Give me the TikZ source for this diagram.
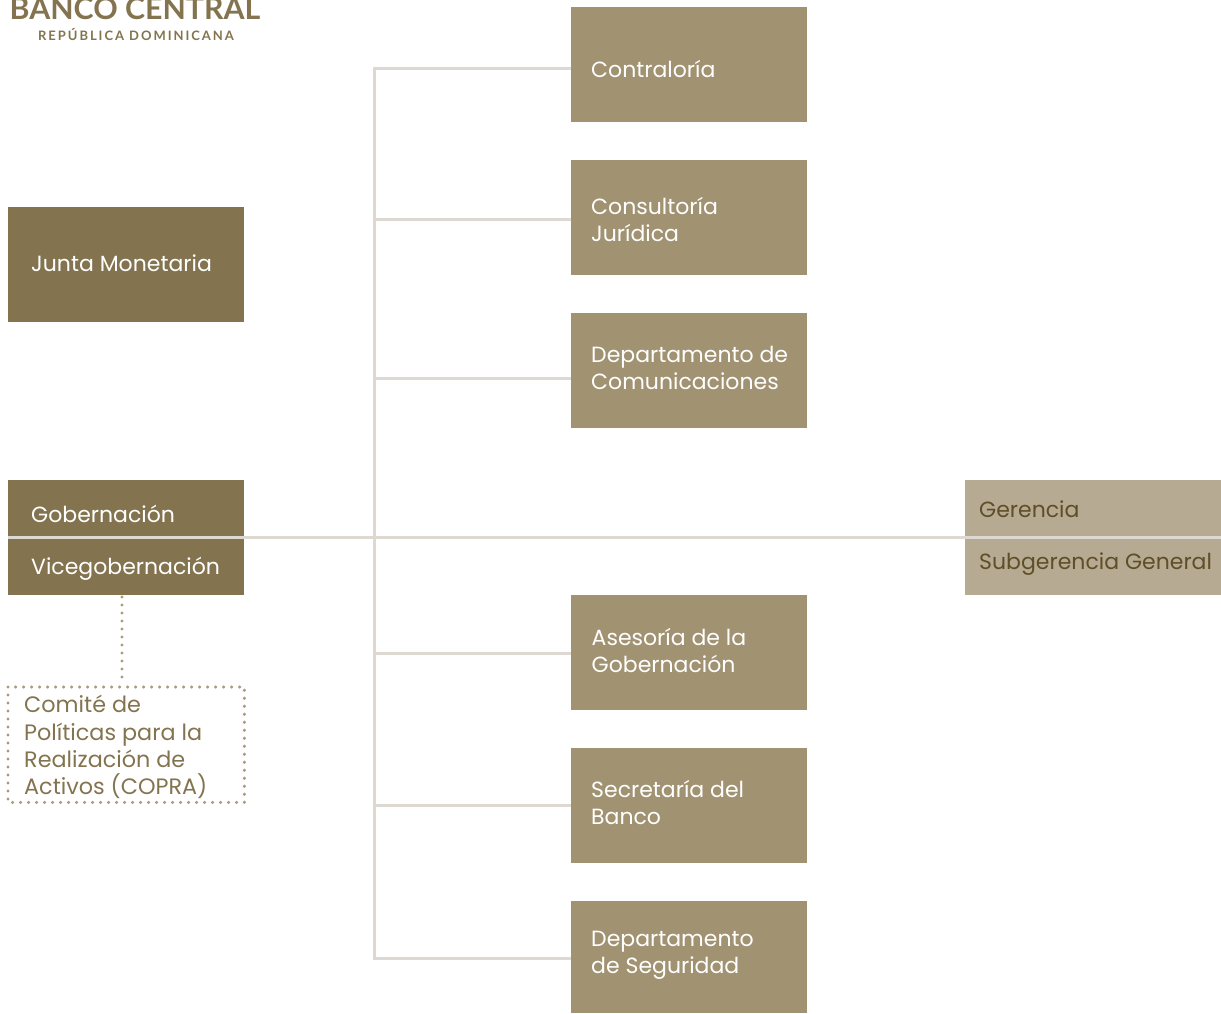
\documentclass[tikz,border=0pt]{standalone}
\usepackage{fontspec}
\setmainfont{Poppins}
\newfontfamily\logofont{Lato}
\definecolor{dark}{HTML}{83744F}
\definecolor{mid}{HTML}{A19272}
\definecolor{light}{HTML}{B6AA92}
\definecolor{ink}{HTML}{5F4F28}
\definecolor{rule}{HTML}{DDD8D2}
\definecolor{dots}{HTML}{A89B80}
\tikzset{
  x=1pt,y=-1pt,
  boxbase/.style={anchor=north west,inner sep=0pt,draw=none},
  boxdark/.style={boxbase,fill=dark,minimum width=236pt},
  boxmid/.style={boxbase,fill=mid,minimum width=236pt,minimum height=115pt},
  boxlight/.style={boxbase,fill=light,minimum width=256pt,minimum height=57.5pt},
  lbl/.style={anchor=west,inner sep=0pt,align=left,text=white,font=\fontsize{22}{27}\selectfont},
  lbldark/.style={lbl,text=ink},
  lblcom/.style={lbl,text=dark,font=\fontsize{22.3}{27.3}\selectfont},
  conn/.style={draw=rule,line width=3pt},
  dotline/.style={draw=dots,line width=3.4pt,line cap=round,dash pattern=on 0pt off 8pt},
}
\begin{document}
\begin{tikzpicture}
\useasboundingbox (0,0) rectangle (1221,1013);
\clip (0,0) rectangle (1221,1013);
% logo
\node[anchor=center,inner sep=0pt,text=dark,font=\logofont\bfseries\fontsize{30.3}{32}\selectfont] (logoa) at (135,9) {BANCO CENTRAL};
\node[anchor=center,inner sep=0pt,text=dark,font=\logofont\bfseries\fontsize{13}{13}\selectfont] (logob) at (136,34.5) {\addfontfeature{LetterSpace=15}REPÚBLICA DOMINICANA};
% left boxes
\node[boxdark,minimum height=115pt] (junta) at (8,207) {};
\node[boxdark,minimum height=57.5pt] (gob) at (8,480) {};
\node[boxdark,minimum height=57.5pt] (vice) at (8,537.5) {};
\node[anchor=north west,inner sep=0pt,minimum width=236pt,minimum height=115pt] (copra) at (8,687) {};
% centre boxes
\node[boxmid] (b1) at (571,7) {};
\node[boxmid] (b2) at (571,160) {};
\node[boxmid] (b3) at (571,313) {};
\node[boxmid] (b4) at (571,595) {};
\node[boxmid] (b5) at (571,748) {};
\node[boxmid,minimum height=112pt] (b6) at (571,901) {};
% right boxes
\node[boxlight] (ger) at (965,480) {};
\node[boxlight] (sub) at (965,537.5) {};
% connectors
\coordinate (top) at (374.5,68);
\coordinate (bot) at (374.5,958);
\coordinate (j2) at (374.5,219);
\coordinate (j3) at (374.5,378);
\coordinate (j4) at (374.5,653);
\coordinate (j5) at (374.5,805);
\draw[conn] (top -| b1.west) -- (top) -- (bot) -- (bot -| b6.west);
\draw[conn] (j2) -- (j2 -| b2.west);
\draw[conn] (j3) -- (j3 -| b3.west);
\draw[conn] (j4) -- (j4 -| b4.west);
\draw[conn] (j5) -- (j5 -| b5.west);
\draw[conn] (gob.south west) -- (gob.south west -| sub.east);
% dotted
\draw[dotline] (copra.north west) rectangle (copra.south east);
\coordinate (dtop) at (122,597);
\coordinate (dbot) at (122,680);
\draw[dotline] (dtop) -- (dbot);
% labels
\node[lbl] (tjunta) at (31,263) {Junta Monetaria};
\node[lbl] (tgob) at (31,514) {Gobernación};
\node[lbl] (tvice) at (31,569) {Vicegobernación};
\node[lblcom] (tcopra) at (24,747) {Comité de\\Políticas para la\\Realización de\\Activos (COPRA)};
\node[lbl] (t1) at (591,69) {Contraloría};
\node[lbl] (t2) at (591,219) {Consultoría\\Jurídica};
\node[lbl] (t3) at (591,368) {Departamento de\\Comunicaciones};
\node[lbl] (t4) at (591.5,650) {Asesoría de la\\Gobernación};
\node[lbl] (t5) at (591,802) {Secretaría del\\Banco};
\node[lbl] (t6) at (591,955) {Departamento\\de Seguridad};
\node[lbldark] (tger) at (979,509) {Gerencia};
\node[lbldark] (tsub) at (979,564) {Subgerencia General};
\end{tikzpicture}
\end{document}
